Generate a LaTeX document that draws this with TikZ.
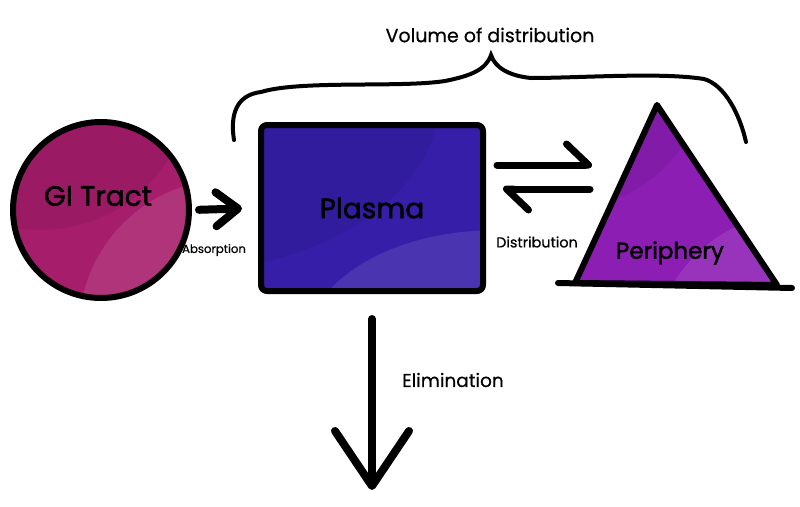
\documentclass[tikz,border=0pt]{standalone}
\usepackage{fontspec}
\setmainfont{Poppins}
\newfontfamily\medfont{Poppins}[FakeBold=1.8]
\newfontfamily\semifont{Poppins}[FakeBold=0.5]
\usetikzlibrary{arrows.meta,calc}
\definecolor{gimag}{RGB}{166,29,108}
\definecolor{plblue}{RGB}{54,30,168}
\definecolor{pervio}{RGB}{140,30,180}
\tikzset{
  compart/.style={draw=black,line width=6pt,line join=round,inner sep=0pt},
  bigtxt/.style={font=\fontsize{28}{30}\medfont},
  fat/.style={line width=8pt,line cap=round},
  harp/.style={line width=7pt,line cap=round,-{Straight Barb[left,round,length=22pt,width=42pt]}}
}
\begin{document}
\begin{tikzpicture}[x=1pt,y=-1pt]
  \useasboundingbox (0,0) rectangle (800,506);
  \node[compart,circle,fill=gimag,minimum size=176,
    path picture={\fill[black,opacity=.07] (-60,-130) circle (150);
      \fill[white,opacity=.1] (129,120) circle (151);}] (gi) at (101,210) {};
  \node[bigtxt] (gilbl) at (98,196) {GI Tract};
  \node[compart,rectangle,rounded corners=6pt,fill=plblue,minimum width=222,minimum height=166,
    font=\fontsize{28}{30}\medfont,
    path picture={\fill[black,opacity=.06] (-150,-120) ellipse (270 and 175);
      \fill[white,opacity=.1] (175,130) ellipse (190 and 118);}] (plasma) at (372,208) {Plasma};
  \draw[compart,fill=pervio,path picture={\fill[black,opacity=.07] (560,60) circle (150);
      \fill[white,opacity=.1] (800,360) circle (148);}]
    (657,105) coordinate (ptop) -- (575,283) coordinate (pleft) -- (777,285) coordinate (pright) -- cycle;
  \draw[line width=6pt,line cap=round] ([xshift=-17pt]pleft) -- ([xshift=15pt,yshift=-3pt]pright);
  \node[font=\fontsize{23}{25}\medfont] (periph) at (670,253) {Periphery};
  % brace
  \draw[line width=4pt,line cap=round] (234,140) .. controls (230,115) and (236,95) .. (261,92)
    .. controls (300,80) and (400,88) .. (445,81) .. controls (470,76) and (486,70) .. (491,55)
    .. controls (495,68) and (510,76) .. (531,78) .. controls (580,78) and (660,72) .. (704,79)
    .. controls (725,85) and (740,115) .. (746,142);
  \node[font=\fontsize{19}{21}\semifont] (vol) at (490,35) {Volume of distribution};
  \coordinate (hr) at (592,165);
  \coordinate (hl) at (590,189);
  \coordinate (out) at (372,490);
  \draw[fat,-{Straight Barb[round,length=22pt,width=34pt]},shorten <=7pt,shorten >=16pt] (gi.east) -- (plasma.west);
  \draw[harp,shorten <=11pt] (plasma.east |- hr) -- (hr);
  \draw[harp,shorten >=17pt] (hl) -- (plasma.east |- hl);
  \draw[fat,-{Straight Barb[round,length=55pt,width=74pt]},shorten <=25pt] (plasma.south) -- (out);
  \node[font=\fontsize{11.7}{13}\semifont] (abs) at (214,250) {Absorption};
  \node[font=\fontsize{14.4}{16}\semifont] (dist) at (537,242) {Distribution};
  \node[font=\fontsize{18.5}{20}\semifont] (elim) at (453,380) {Elimination};
\end{tikzpicture}
\end{document}
